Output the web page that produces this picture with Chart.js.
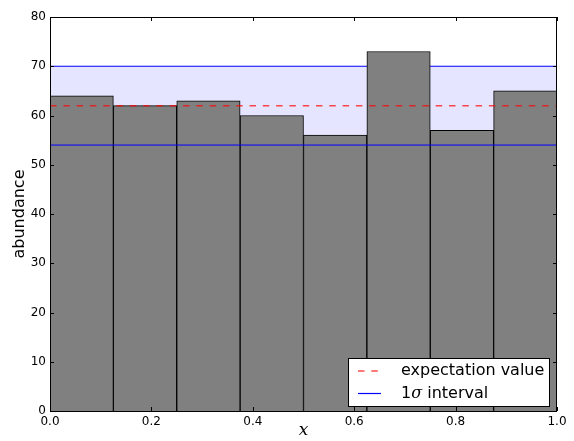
<!DOCTYPE html>
<html>
<head>
<meta charset="utf-8">
<script src="https://cdn.jsdelivr.net/npm/chart.js@4.4.0/dist/chart.umd.min.js"></script>
<style>
  html, body { margin: 0; padding: 0; background: #fff; }
  #wrap { width: 574px; height: 441px; position: relative; }
</style>
</head>
<body>
<div id="wrap"><canvas id="c" width="574" height="441"></canvas></div>
<script>
// ---- data ----
const binEdges = [0.0, 0.125, 0.25, 0.375, 0.5, 0.625, 0.75, 0.875, 1.0];
const counts = [64, 62, 63, 60, 56, 73, 57, 65];
const expectationValue = 62;
const sigmaLow = 54;
const sigmaHigh = 70;
const xTickValues = [0.0, 0.2, 0.4, 0.6, 0.8, 1.0];
const xTickLabels = ['0.0', '0.2', '0.4', '0.6', '0.8', '1.0'];
const yTickValues = [0, 10, 20, 30, 40, 50, 60, 70, 80];
const yTickLabels = ['0', '10', '20', '30', '40', '50', '60', '70', '80'];
const legendLabels = ['expectation value', '1σ interval'];
const xTitle = 'x';
const yTitle = 'abundance';

const binCenters = counts.map((_, i) => (binEdges[i] + binEdges[i + 1]) / 2);
const barData = counts.map((c, i) => ({ x: binCenters[i], y: c }));
const hline = v => [{ x: binEdges[0], y: v }, { x: binEdges[binEdges.length - 1], y: v }];

const FONT = "'DejaVu Sans', sans-serif";

const framePlugin = {
  id: 'frame',
  afterDatasetsDraw(chart) {
    const ctx = chart.ctx;
    const a = chart.chartArea;
    const xs = chart.scales.x, ys = chart.scales.y;
    ctx.save();
    ctx.strokeStyle = '#000';
    ctx.lineWidth = 1;
    // inner ticks
    ctx.beginPath();
    xTickValues.forEach(v => {
      const px = Math.round(xs.getPixelForValue(v)) + 0.5;
      ctx.moveTo(px, a.bottom); ctx.lineTo(px, a.bottom - 4);
      ctx.moveTo(px, a.top); ctx.lineTo(px, a.top + 4);
    });
    yTickValues.forEach(v => {
      const py = Math.round(ys.getPixelForValue(v)) + 0.5;
      ctx.moveTo(a.left, py); ctx.lineTo(a.left + 4, py);
      ctx.moveTo(a.right, py); ctx.lineTo(a.right - 4, py);
    });
    ctx.stroke();
    // frame
    ctx.strokeRect(Math.round(a.left) + 0.5, Math.round(a.top) + 0.5,
                   Math.round(a.right - a.left) - 1, Math.round(a.bottom - a.top));
    // legend
    const bx = 348.5, by = 358.5, bw = 201, bh = 48;
    ctx.fillStyle = '#fff';
    ctx.fillRect(bx, by, bw, bh);
    ctx.strokeStyle = '#000';
    ctx.lineWidth = 1;
    ctx.strokeRect(bx, by, bw, bh);
    const rows = [371, 393.5];
    // expectation sample
    ctx.strokeStyle = 'rgba(255,0,0,0.7)';
    ctx.lineWidth = 1.5;
    ctx.setLineDash([6.5, 6.8]);
    ctx.beginPath(); ctx.moveTo(358, rows[0]); ctx.lineTo(381, rows[0]); ctx.stroke();
    ctx.setLineDash([]);
    ctx.strokeStyle = '#0000ff';
    ctx.lineWidth = 1.2;
    ctx.beginPath(); ctx.moveTo(358, rows[1]); ctx.lineTo(381, rows[1]); ctx.stroke();
    ctx.fillStyle = '#000';
    ctx.textBaseline = 'middle';
    ctx.textAlign = 'left';
    ctx.font = "16px " + FONT;
    ctx.fillText(legendLabels[0], 401, rows[0]);
    // "1σ interval" with italic sigma
    const parts = [legendLabels[1].slice(0, 1), legendLabels[1].slice(1, 2), legendLabels[1].slice(2)];
    let tx = 401;
    ctx.font = "16px " + FONT;
    ctx.fillText(parts[0], tx, rows[1]); tx += ctx.measureText(parts[0]).width;
    ctx.font = "italic 16px 'DejaVu Serif', serif";
    ctx.fillText(parts[1], tx, rows[1]); tx += ctx.measureText(parts[1]).width;
    ctx.font = "16px " + FONT;
    ctx.fillText(parts[2], tx, rows[1]);
    ctx.restore();
  }
};

new Chart(document.getElementById('c'), {
  type: 'bar',
  data: {
    datasets: [
      { type: 'line', data: hline(sigmaHigh), borderColor: '#0000ff', borderWidth: 1,
        pointRadius: 0, fill: 1, backgroundColor: 'rgba(0,0,255,0.1)', order: 3 },
      { type: 'line', data: hline(sigmaLow), borderColor: '#0000ff', borderWidth: 1,
        pointRadius: 0, fill: false, order: 1 },
      { type: 'line', data: hline(expectationValue), borderColor: 'rgba(255,0,0,0.7)', borderWidth: 1.5,
        borderDash: [6.5, 6.8], pointRadius: 0, fill: false, order: 1 },
      { type: 'bar', data: barData, backgroundColor: '#808080', borderColor: '#000',
        borderWidth: 1, barPercentage: 1, categoryPercentage: 1, order: 2 }
    ]
  },
  options: {
    responsive: false,
    animation: false,
    events: [],
    layout: { padding: { left: 0, top: 17, right: 17, bottom: 0 } },
    plugins: {
      legend: { display: false },
      tooltip: { enabled: false },
      filler: { drawTime: 'beforeDatasetsDraw' }
    },
    scales: {
      x: {
        type: 'linear', min: 0, max: 1, offset: false,
        grid: { display: false, drawTicks: false },
        border: { display: false },
        afterBuildTicks: s => { s.ticks = xTickValues.map(v => ({ value: v })); },
        ticks: { color: '#000', font: { family: FONT, size: 12 }, padding: 4, maxRotation: 0,
                 autoSkip: false, callback: (v) => xTickLabels[xTickValues.indexOf(v)] },
        title: { display: true, text: xTitle, color: '#000', padding: { top: 0, bottom: 0 },
                 font: { family: "'DejaVu Serif', serif", style: 'italic', size: 17 } },
        afterFit: s => { s.height = 30; }
      },
      y: {
        min: 0, max: 80,
        grid: { display: false, drawTicks: false },
        border: { display: false },
        afterBuildTicks: s => { s.ticks = yTickValues.map(v => ({ value: v })); },
        ticks: { color: '#000', font: { family: FONT, size: 12 }, padding: 4,
                 autoSkip: false, callback: (v) => yTickLabels[yTickValues.indexOf(v)] },
        title: { display: true, text: yTitle, color: '#000', padding: { top: 10, bottom: 0 },
                 font: { family: FONT, size: 16 } },
        afterFit: s => { s.width = 50; }
      }
    }
  },
  plugins: [framePlugin]
});
</script>
</body>
</html>
